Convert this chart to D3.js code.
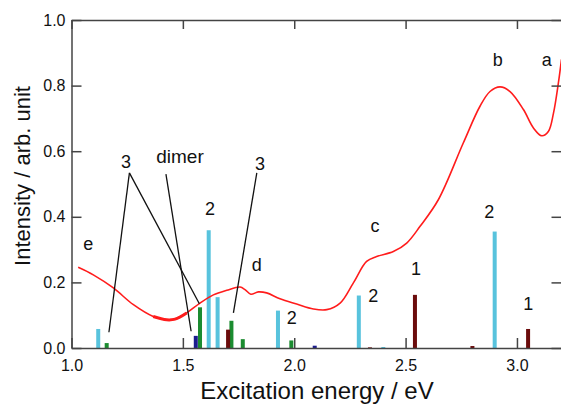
<!DOCTYPE html>
<html>
<head>
<meta charset="utf-8">
<script src="https://cdn.jsdelivr.net/npm/d3@7"></script>
<style>
  body { margin: 0; background: #fff; }
  svg text { font-family: "Liberation Sans", Arial, sans-serif; fill: #111; }
</style>
</head>
<body>
<div id="chart"></div>
<script>
// datos
var xTicks = [1.0, 1.5, 2.0, 2.5, 3.0]
var yTicks = [0.0, 0.2, 0.4, 0.6, 0.8, 1.0]

// espectro de excitacion (linea roja)
var spectrum = [
  [1.03,0.246],[1.098,0.223],[1.188,0.183],[1.278,0.132],[1.367,0.096],[1.427,0.086],
  [1.465,0.088],[1.517,0.107],[1.577,0.137],[1.637,0.162],[1.697,0.176],[1.757,0.186],
  [1.779,0.178],[1.805,0.164],[1.839,0.171],[1.876,0.168],[1.936,0.150],[2.011,0.134],
  [2.086,0.119],[2.146,0.117],[2.206,0.137],[2.265,0.198],[2.325,0.264],[2.37,0.279],
  [2.445,0.294],[2.505,0.320],[2.565,0.371],[2.647,0.452],[2.759,0.625],[2.834,0.737],
  [2.879,0.782],[2.924,0.796],[2.969,0.782],[3.029,0.727],[3.074,0.671],[3.111,0.647],
  [3.141,0.660],[3.164,0.716],[3.186,0.808],[3.20,0.880]
]

// transiciones calculadas (barras) por tipo
var cyanSticks  = [[1.12,0.058],[1.616,0.359],[1.656,0.155],[1.927,0.114],[2.29,0.160],[2.40,0.003],[2.90,0.355]]
var greenSticks = [[1.158,0.015],[1.577,0.124],[1.718,0.083],[1.769,0.027],[1.987,0.023]]
var navySticks  = [[1.558,0.037],[2.092,0.007]]
var redSticks   = [[1.703,0.056],[2.34,0.002],[2.542,0.162],[2.80,0.006],[3.05,0.058]]

// etiquetas [texto, eV, intensidad]
var labels = [
  ['e',1.075,0.30],['3',1.245,0.549],['dimer',1.487,0.564],['3',1.846,0.544],
  ['2',1.622,0.404],['d',1.832,0.234],['2',1.989,0.074],['c',2.363,0.355],
  ['2',2.355,0.139],['1',2.547,0.224],['2',2.876,0.396],['1',3.051,0.117],
  ['b',2.914,0.861],['a',3.134,0.861]
]
// lineas guia [eV1, I1, eV2, I2]
var leaders = [
  [1.26,0.534,1.168,0.048],[1.26,0.534,1.574,0.135],
  [1.424,0.530,1.537,0.051],[1.832,0.534,1.727,0.107]
]

var W = 561, H = 404
var marginLeft = 71.5, marginTop = 20, pw = 490, ph = 328

var svg = d3.select('#chart').append('svg')
    .attr('width', W).attr('height', H)
var g = svg.append('g').attr('transform', 'translate(' + marginLeft + ',' + marginTop + ')')

var scaleX = d3.scaleLinear().domain([1.0, 3.2]).range([0, pw])
var scaleY = d3.scaleLinear().domain([0, 1]).range([ph, 0])

//barras
var series = [
  {data: cyanSticks, color: '#58c3dd'},
  {data: greenSticks, color: '#1b8c30'},
  {data: navySticks, color: '#1c1c8e'},
  {data: redSticks, color: '#6b0c0c'}
]
series.forEach(function(s) {
  g.append('g').selectAll('rect')
    .data(s.data)
    .enter()
    .append('rect')
    .attr('x', (d) => scaleX(d[0]) - 2)
    .attr('y', (d) => scaleY(d[1]))
    .attr('width', 4)
    .attr('height', (d) => ph - scaleY(d[1]))
    .attr('fill', s.color)
})

//curva
var line = d3.line()
    .x((d) => scaleX(d[0]))
    .y((d) => scaleY(d[1]))
    .curve(d3.curveCatmullRom.alpha(0.5))
g.append('path')
    .datum(spectrum)
    .attr('d', line)
    .attr('fill', 'none')
    .attr('stroke', '#ff1c1c')
    .attr('stroke-width', 1.6)
// tramo ruidoso alrededor del minimo
g.append('path')
    .datum(spectrum.filter((d) => d[0] > 1.36 && d[0] < 1.52))
    .attr('d', line)
    .attr('fill', 'none')
    .attr('stroke', '#ff1c1c')
    .attr('stroke-width', 3)

//lineas guia
g.append('g').selectAll('line')
    .data(leaders)
    .enter()
    .append('line')
    .attr('x1', (d) => scaleX(d[0])).attr('y1', (d) => scaleY(d[1]))
    .attr('x2', (d) => scaleX(d[2])).attr('y2', (d) => scaleY(d[3]))
    .attr('stroke', '#111')
    .attr('stroke-width', 1.3)

//etiquetas
g.append('g').selectAll('text')
    .data(labels)
    .enter()
    .append('text')
    .attr('x', (d) => scaleX(d[1]))
    .attr('y', (d) => scaleY(d[2]))
    .attr('text-anchor', 'middle')
    .style('font-size', (d) => d[0] == 'dimer' ? '19px' : '18px')
    .text((d) => d[0])

//ejes
var fmt = d3.format('.1f')
var xaxis = d3.axisBottom(scaleX).tickValues(xTicks).tickFormat(fmt).tickSizeInner(-10).tickSizeOuter(0).tickPadding(12)
var yaxis = d3.axisLeft(scaleY).tickValues(yTicks).tickFormat(fmt).tickSizeInner(-10).tickSizeOuter(0).tickPadding(6)
var xtop = d3.axisTop(scaleX).tickValues(xTicks).tickFormat('').tickSizeInner(-9).tickSizeOuter(0)
var yright = d3.axisRight(scaleY).tickValues(yTicks).tickFormat('').tickSizeInner(-10).tickSizeOuter(0)

var axes = [
  g.append('g').attr('transform', 'translate(0,' + ph + ')').call(xaxis),
  g.append('g').call(yaxis),
  g.append('g').call(xtop),
  g.append('g').attr('transform', 'translate(' + pw + ',0)').call(yright)
]
axes.forEach(function(a) {
  a.selectAll('path, line').attr('stroke', '#444').attr('stroke-width', 1.5)
  a.selectAll('text').style('font-size', '16px').attr('fill', '#111')
})

//titulos
svg.append('text')
    .attr('transform', 'translate(30,176) rotate(-90)')
    .attr('text-anchor', 'middle')
    .style('font-size', '22px')
    .text('Intensity / arb. unit')
svg.append('text')
    .attr('x', 317).attr('y', 399)
    .attr('text-anchor', 'middle')
    .style('font-size', '24px')
    .text('Excitation energy / eV')
</script>
</body>
</html>
